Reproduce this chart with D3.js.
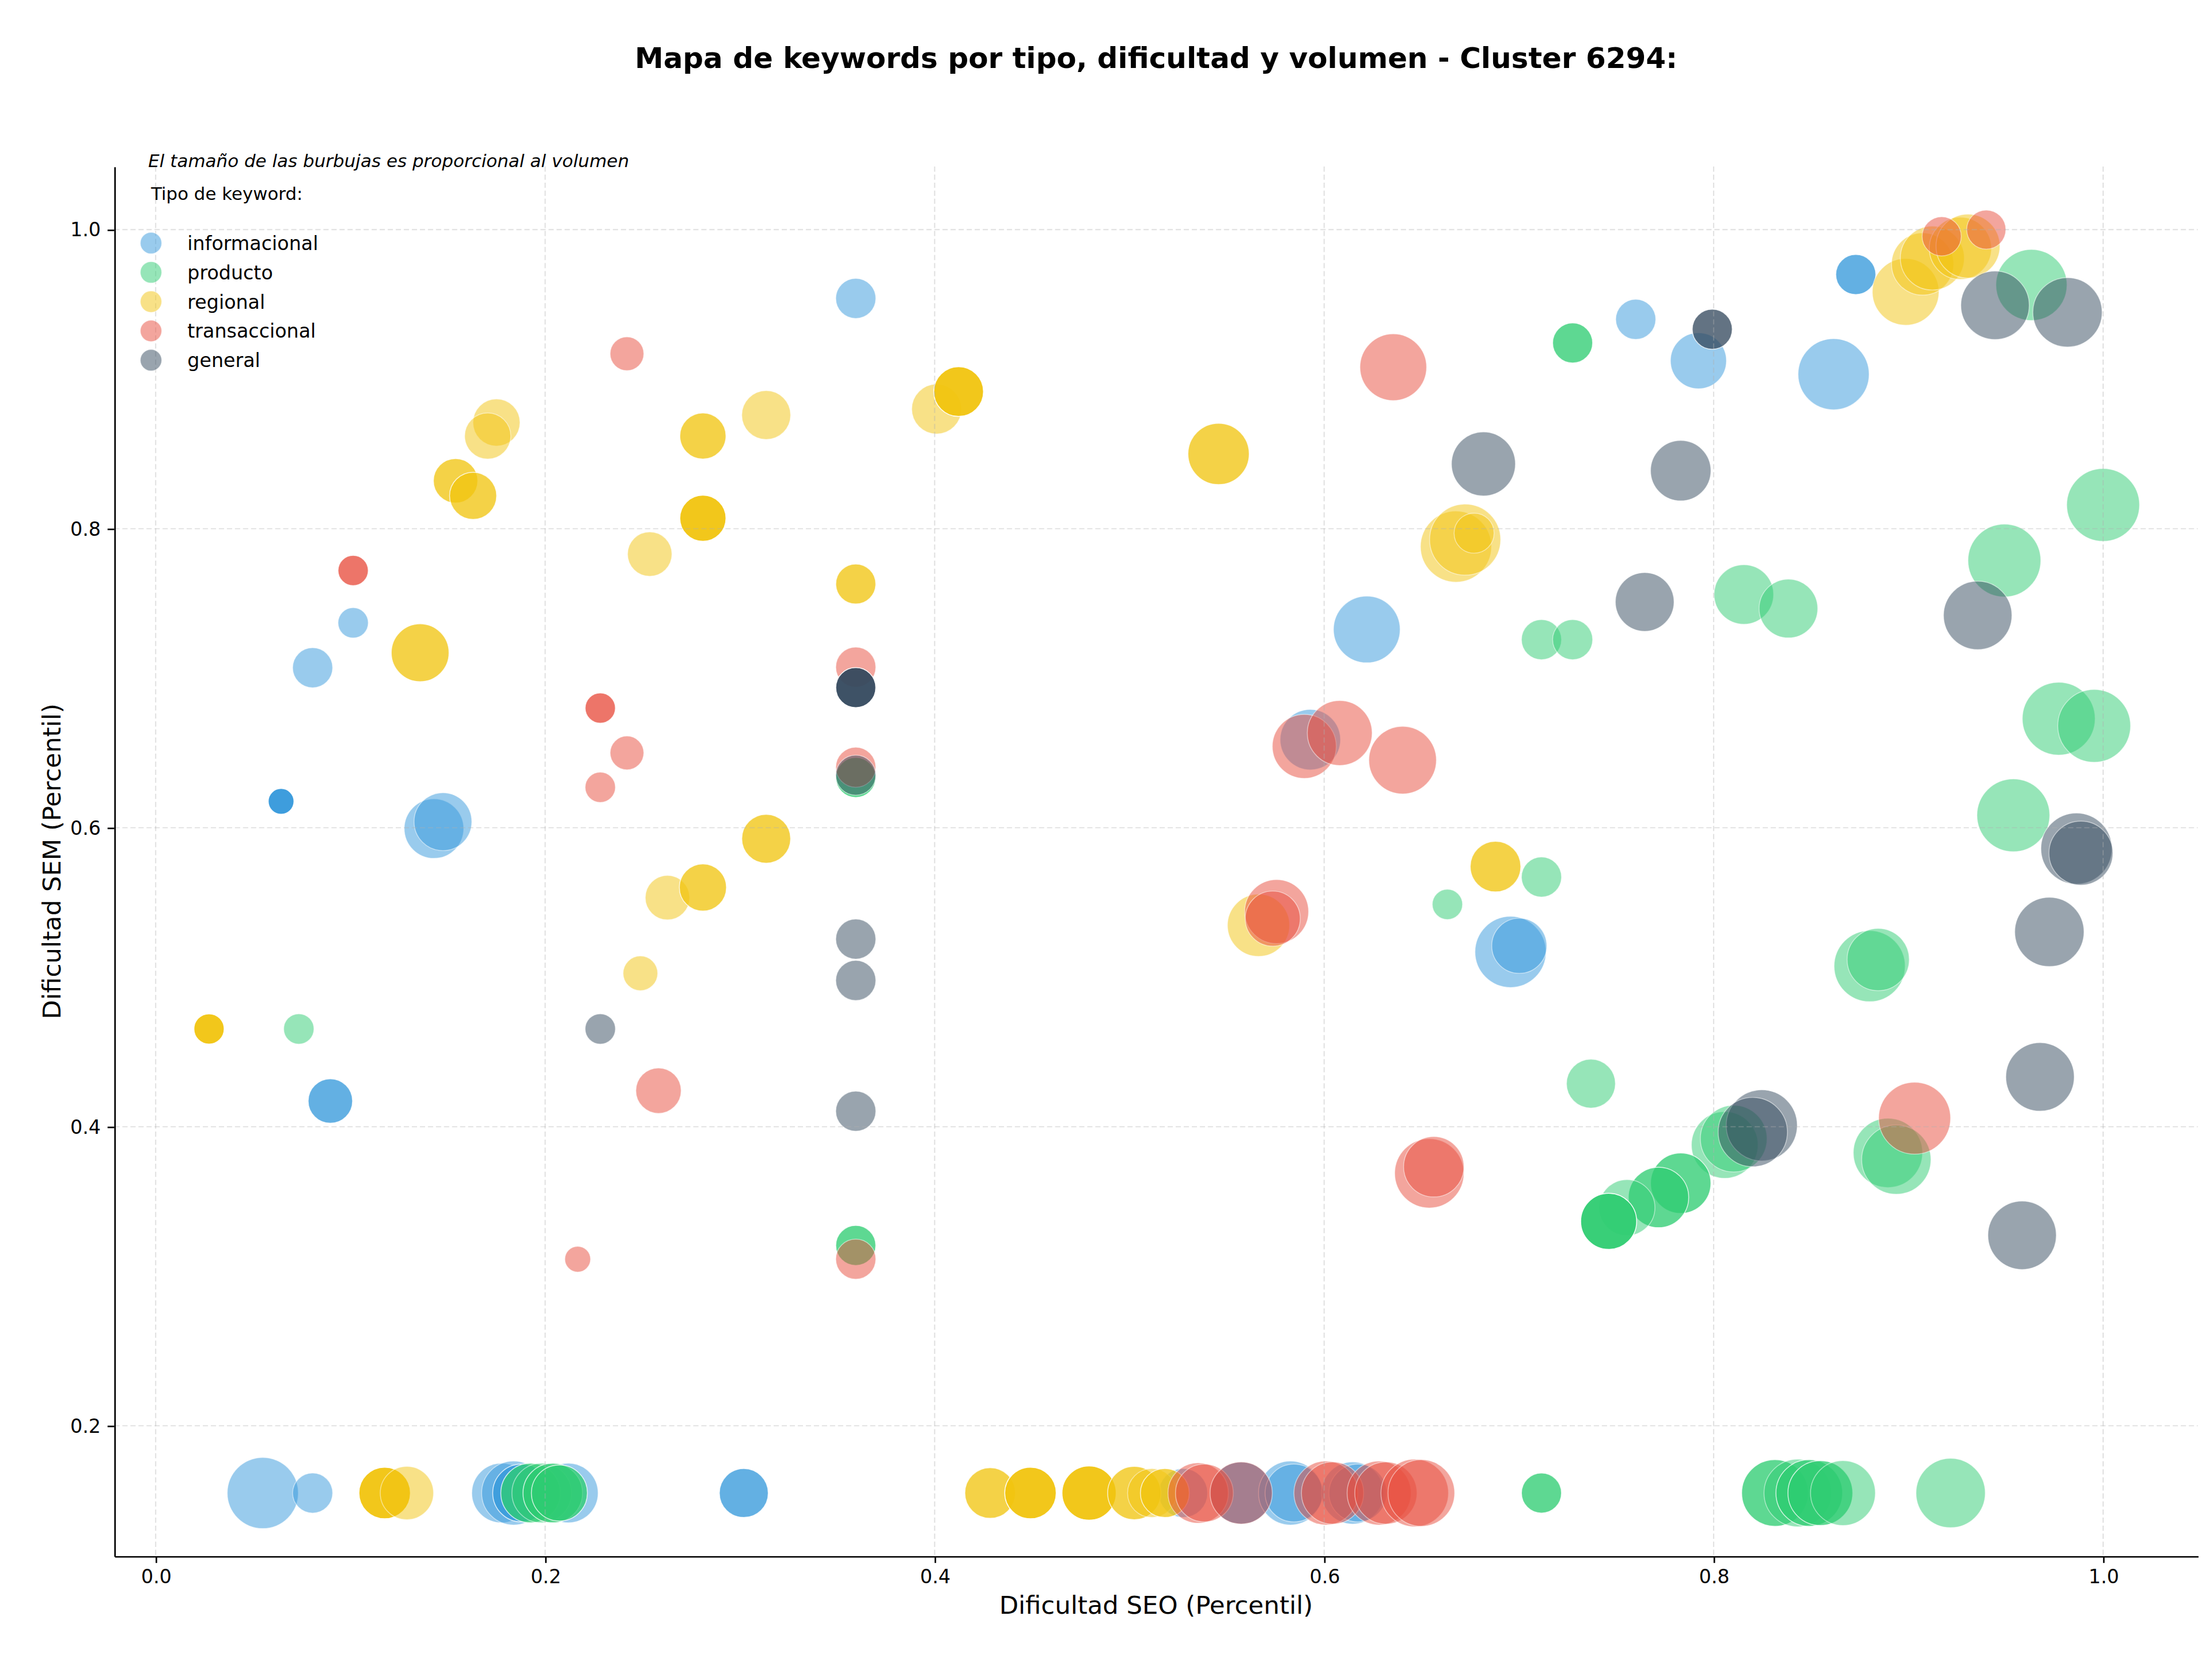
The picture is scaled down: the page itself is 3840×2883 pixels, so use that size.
<!DOCTYPE html>
<html>
<head>
<meta charset="utf-8">
<script src="https://cdn.jsdelivr.net/npm/d3@7"></script>
<style>
  html, body { margin: 0; padding: 0; background: #fff; }
  svg { display: block; }
</style>
</head>
<body>
<svg id="chart"></svg>
<script>
// tipos de keyword, en el orden en que se dibujan
const tipos = ["informacional", "producto", "regional", "transaccional", "general"];

// un valor por keyword: tipo (índice en tipos), dificultad SEO, dificultad SEM, volumen, intensidad
const tipoKw = [
  0,0,0,0,0,0,0,0,0,0, 0,0,0,0,0,0,0,0,0,0, 0,0,0,0,0,0,0,0,
  1,1,1,1,1,1,1,1,1,1, 1,1,1,1,1,1,1,1,1,1, 1,1,1,1,1,1,1,1,1,1, 1,1,1,1,1,1,1,1,
  2,2,2,2,2,2,2,2,2,2, 2,2,2,2,2,2,2,2,2,2, 2,2,2,2,2,2,2,2,2,2, 2,2,2,2,2,2,
  3,3,3,3,3,3,3,3,3,3, 3,3,3,3,3,3,3,3,3,3, 3,3,3,3,3,3,3,3,3,3,
  4,4,4,4,4,4,4,4,4,4, 4,4,4,4,4,4,4,4,4,4
];
const dificultadSEO = [
  // informacional
  0.3595, 0.1014, 0.0806, 0.0644, 0.1429, 0.1475, 0.0897, 0.6219, 0.5929, 0.760, 0.7922, 0.8616, 0.873, 0.6957, 0.7002,
  0.0550, 0.0806, 0.1776, 0.1838, 0.1879, 0.2119, 0.302, 0.5276, 0.5574, 0.5827, 0.5845, 0.6146, 0.6173,
  // producto
  0.7276, 0.9632, 1.0, 0.9493, 0.8155, 0.8384, 0.7116, 0.7276, 0.9772, 0.9954, 0.9539, 0.3595, 0.7116, 0.6633,
  0.8801, 0.8845, 0.0735, 0.737, 0.8895, 0.8938, 0.8057, 0.8103, 0.7831, 0.7717, 0.7555, 0.7461, 0.3595,
  0.1925, 0.1982, 0.2039, 0.2073, 0.7116, 0.8315, 0.8432, 0.8491, 0.8548, 0.8664, 0.9217,
  // regional
  0.175, 0.1705, 0.154, 0.163, 0.281, 0.3135, 0.281, 0.2537, 0.1358, 0.3135, 0.401, 0.4123, 0.5458, 0.6677, 0.6724,
  0.677, 0.3595, 0.8986, 0.9073, 0.9123, 0.9267, 0.9306, 0.2628, 0.281, 0.2489, 0.0274, 0.5663, 0.688,
  0.1176, 0.129, 0.4285, 0.4492, 0.4793, 0.5025, 0.5116, 0.5182,
  // transaccional
  0.242, 0.1014, 0.2283, 0.242, 0.2283, 0.6355, 0.3595, 0.3595, 0.5898, 0.608, 0.6403, 0.9171, 0.940, 0.2582,
  0.2167, 0.3595, 0.5756, 0.5736, 0.654, 0.6563, 0.9032,
  0.5353, 0.5385, 0.5574, 0.6009, 0.6043, 0.6282, 0.6317, 0.6465, 0.6499,
  // general
  0.6818, 0.7993, 0.9445, 0.9817, 0.7831, 0.7646, 0.9356, 0.3595, 0.3595, 0.9863, 0.9886, 0.9724, 0.3595, 0.3595,
  0.3595, 0.2283, 0.9676, 0.8247, 0.8201, 0.9584
];
const dificultadSEM = [
  // informacional
  0.954, 0.737, 0.707, 0.6176, 0.5994, 0.604, 0.4172, 0.7326, 0.6589, 0.940, 0.9123, 0.9033, 0.970, 0.5169, 0.521,
  0.155, 0.155, 0.155, 0.155, 0.155, 0.155, 0.155, 0.155, 0.155, 0.155, 0.155, 0.155, 0.155,
  // producto
  0.9242, 0.963, 0.8159, 0.7787, 0.756, 0.7466, 0.7258, 0.7258, 0.6729, 0.6681, 0.6083, 0.6336, 0.567, 0.5487,
  0.5074, 0.5118, 0.4654, 0.4288, 0.3825, 0.378, 0.3878, 0.392, 0.3622, 0.3527, 0.3459, 0.3367, 0.3206,
  0.155, 0.155, 0.155, 0.155, 0.155, 0.155, 0.155, 0.155, 0.155, 0.155, 0.155,
  // regional
  0.871, 0.862, 0.832, 0.822, 0.862, 0.876, 0.807, 0.783, 0.717, 0.5926, 0.880, 0.8917, 0.850, 0.788, 0.7927,
  0.797, 0.763, 0.9584, 0.977, 0.981, 0.9875, 0.989, 0.5532, 0.560, 0.5026, 0.4654, 0.5347, 0.574,
  0.155, 0.155, 0.155, 0.155, 0.155, 0.155, 0.155, 0.155,
  // transaccional
  0.917, 0.772, 0.680, 0.650, 0.627, 0.908, 0.7074, 0.6404, 0.6544, 0.6633, 0.6452, 0.9955, 1.0, 0.4241,
  0.3114, 0.3114, 0.5439, 0.5392, 0.3688, 0.3732, 0.4057,
  0.155, 0.155, 0.155, 0.155, 0.155, 0.155, 0.155, 0.155, 0.155,
  // general
  0.8433, 0.9334, 0.9494, 0.9447, 0.8388, 0.751, 0.742, 0.6937, 0.6351, 0.586, 0.583, 0.5303, 0.5255, 0.4978,
  0.4104, 0.4654, 0.4333, 0.4009, 0.3964, 0.3274
];
const volumen = [
  // informacional
  2030, 1160, 2030, 840, 4490, 4230, 2500, 5630, 4620, 2030, 3970, 6400, 2030, 6400, 3840,
  6400, 2030, 4490, 5180, 4230, 4490, 3030, 3030, 4900, 5180, 4230, 4900, 4230,
  // producto
  2030, 6400, 6720, 6720, 4490, 4360, 2030, 2030, 6720, 6720, 6720, 2030, 2030, 1160,
  6400, 4900, 1160, 3030, 6080, 6080, 5630, 5630, 4620, 4620, 3970, 3970, 2030,
  4490, 4490, 4490, 3970, 2030, 5630, 5780, 5630, 5330, 5330, 6080,
  // regional
  2810, 2700, 2500, 2810, 2700, 3030, 2700, 2500, 4230, 3030, 3140, 3140, 4760, 6400, 6400,
  2030, 2030, 5630, 4900, 5180, 4900, 5180, 2500, 2810, 1520, 1160, 4900, 3250,
  3360, 3600, 3250, 3360, 3720, 3600, 3030, 3030,
  // transaccional
  1440, 1160, 1160, 1440, 1160, 5630, 2030, 2030, 5180, 5330, 5780, 1940, 1940, 2600,
  840, 2030, 5180, 3840, 6080, 4620, 6560,
  4620, 4230, 4900, 5180, 4900, 5180, 4900, 5780, 5630,
  // general
  5180, 2030, 5930, 6080, 4620, 4360, 5930, 2030, 2030, 6400, 5180, 6080, 2030, 2030,
  2030, 1160, 5930, 6400, 6080, 5930
];
// 0 = baja, 1 = alta
const intensidad = [
  // informacional
  0, 0, 0, 1, 0, 0, 0.6, 0, 0, 0, 0, 0, 0.6, 0, 0,
  0, 0, 0, 0, 0.6, 0, 0.6, 0, 0.6, 0, 0, 0, 0,
  // producto
  0.6, 0, 0, 0, 0, 0, 0, 0, 0, 0, 0, 0.6, 0, 0,
  0, 0, 0, 0, 0, 0, 0, 0, 0.6, 0.6, 0, 1, 0.6,
  0.6, 0, 0.6, 0.6, 0.6, 0.6, 0, 0.6, 0.6, 0, 0,
  // regional
  0, 0, 0.6, 0.6, 0.6, 0, 1, 0, 0.6, 0.6, 0, 1, 0.6, 0, 0,
  0, 0.6, 0, 0, 0, 0, 0, 0, 0.6, 0, 1, 0, 0.6,
  1, 0, 0.6, 1, 1, 0.6, 0, 0.6,
  // transaccional
  0, 0.6, 0.6, 0, 0, 0, 0, 0, 0, 0, 0, 0, 0, 0,
  0, 0, 0, 0, 0, 0, 0,
  0, 0, 0, 0, 0, 0, 0, 0, 0,
  // general
  0, 0.6, 0, 0, 0, 0, 0, 1, 0, 0, 0, 0, 0, 0,
  0, 0, 0, 0, 0, 0
];
const ticksSEO = [0.0, 0.2, 0.4, 0.6, 0.8, 1.0];
const ticksSEM = [0.2, 0.4, 0.6, 0.8, 1.0];

const colores = {
  informacional: "#3498db",
  producto: "#2ecc71",
  regional: "#f1c40f",
  transaccional: "#e74c3c",
  general: "#34495e"
};

const W = 1568, H = 1177.3;
const mL = 81, mR = 1558, mT = 118, mB = 1103;
const font = "DejaVu Sans, Liberation Sans, sans-serif";

const svg = d3.select("#chart")
  .attr("width", 3840)
  .attr("height", 2883)
  .attr("viewBox", `0 0 ${W} ${H}`)
  .style("font-family", font);

svg.append("rect").attr("width", W).attr("height", H).attr("fill", "#fff");

const keywords = tipoKw.map((t, i) => ({
  tipo: tipos[t],
  seo: dificultadSEO[i],
  sem: dificultadSEM[i],
  vol: volumen[i],
  int: intensidad[i]
}));

// márgenes del 5% como matplotlib
const [sx0, sx1] = d3.extent(dificultadSEO);
const [sy0, sy1] = d3.extent(dificultadSEM);
const px = (sx1 - sx0) * 0.05, py = (sy1 - sy0) * 0.05;

const x = d3.scaleLinear().domain([sx0 - px, sx1 + px]).range([mL, mR]);
const y = d3.scaleLinear().domain([sy0 - py, sy1 + py]).range([mB, mT]);
const r = d3.scaleSqrt().domain([0, d3.max(volumen)]).range([0, 25.8]);
const alpha = d3.scaleLinear().domain([0, 1]).range([0.5, 0.95]);

// burbujas
svg.append("g")
  .selectAll("circle")
  .data(keywords)
  .join("circle")
  .attr("cx", d => x(d.seo))
  .attr("cy", d => y(d.sem))
  .attr("r", d => r(d.vol))
  .attr("fill", d => colores[d.tipo])
  .attr("fill-opacity", d => alpha(d.int))
  .attr("stroke", "#fff")
  .attr("stroke-opacity", d => alpha(d.int))
  .attr("stroke-width", 0.6);

// rejilla (encima de las burbujas, como en matplotlib)
const grid = svg.append("g")
  .attr("stroke", "#b0b0b0")
  .attr("stroke-opacity", 0.4)
  .attr("stroke-width", 0.8)
  .attr("stroke-dasharray", "3.7,2");
grid.selectAll("line.v").data(ticksSEO).join("line")
  .attr("class", "v")
  .attr("x1", d => x(d)).attr("x2", d => x(d))
  .attr("y1", mT).attr("y2", mB);
grid.selectAll("line.h").data(ticksSEM).join("line")
  .attr("class", "h")
  .attr("x1", mL).attr("x2", mR)
  .attr("y1", d => y(d)).attr("y2", d => y(d));

// ejes
const xAxis = svg.append("g")
  .attr("transform", `translate(0,${mB})`)
  .call(d3.axisBottom(x).tickValues(ticksSEO).tickFormat(d3.format(".1f"))
    .tickSize(4.8).tickPadding(4.8).tickSizeOuter(0));
const yAxis = svg.append("g")
  .attr("transform", `translate(${mL},0)`)
  .call(d3.axisLeft(y).tickValues(ticksSEM).tickFormat(d3.format(".1f"))
    .tickSize(4.8).tickPadding(4.8).tickSizeOuter(0));
[xAxis, yAxis].forEach(g => {
  g.select(".domain").attr("stroke", "#000").attr("stroke-width", 1.1);
  g.selectAll(".tick line").attr("stroke", "#000").attr("stroke-width", 1.1);
  g.selectAll(".tick text").attr("fill", "#000")
    .style("font-family", font).style("font-size", "13.6px");
});

// textos
svg.append("text")
  .attr("x", (mL + mR) / 2).attr("y", 48)
  .attr("text-anchor", "middle")
  .style("font-size", "20.4px").style("font-weight", "bold")
  .text("Mapa de keywords por tipo, dificultad y volumen - Cluster 6294:");

svg.append("text")
  .attr("x", (mL + mR) / 2).attr("y", 1144)
  .attr("text-anchor", "middle")
  .style("font-size", "17.7px")
  .text("Dificultad SEO (Percentil)");

svg.append("text")
  .attr("transform", `translate(43,${(mT + mB) / 2}) rotate(-90)`)
  .attr("text-anchor", "middle")
  .style("font-size", "17.7px")
  .text("Dificultad SEM (Percentil)");

svg.append("text")
  .attr("x", 105).attr("y", 118.5)
  .style("font-size", "12.65px").style("font-style", "italic")
  .text("El tamaño de las burbujas es proporcional al volumen");

svg.append("text")
  .attr("x", 107).attr("y", 141.5)
  .style("font-size", "12.6px")
  .text("Tipo de keyword:");

// leyenda
const leyenda = svg.append("g")
  .selectAll("g")
  .data(tipos)
  .join("g")
  .attr("transform", (d, i) => `translate(107,${172.3 + i * 20.75})`);
leyenda.append("circle")
  .attr("r", 7.6)
  .attr("fill", d => colores[d])
  .attr("fill-opacity", 0.5)
  .attr("stroke", "#fff")
  .attr("stroke-opacity", 0.5)
  .attr("stroke-width", 0.6);
leyenda.append("text")
  .attr("x", 25.8).attr("dy", "0.36em")
  .style("font-size", "13.6px")
  .text(d => d);
</script>
</body>
</html>
